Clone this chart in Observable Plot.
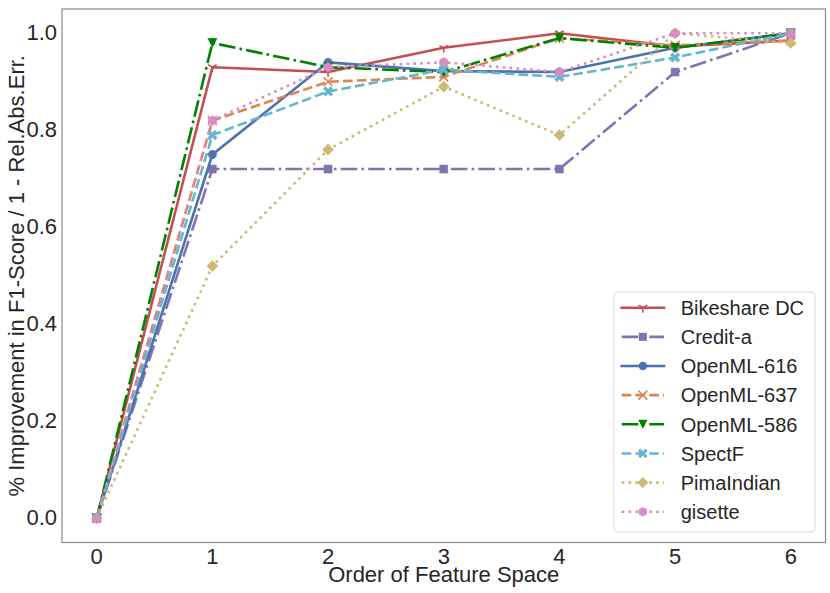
<!DOCTYPE html>
<html><head><meta charset="utf-8">
<script src="https://cdn.jsdelivr.net/npm/d3@7"></script>
<script src="https://cdn.jsdelivr.net/npm/@observablehq/plot@0.6"></script>
<style>
body{margin:0;background:#fff;}
#wrap{position:relative;width:830px;height:593px;font-family:"Liberation Sans",Arial,sans-serif;}
#legend{position:absolute;left:613px;top:291px;}
</style></head><body><div id="wrap"></div>
<script>
// ---- data ----
const orders = [0, 1, 2, 3, 4, 5, 6];
const seriesNames = ["Bikeshare DC", "Credit-a", "OpenML-616", "OpenML-637", "OpenML-586", "SpectF", "PimaIndian", "gisette"];
const bikeshareDC = [0, 0.93, 0.92, 0.97, 1.0, 0.973, 0.985];
const creditA     = [0, 0.72, 0.72, 0.72, 0.72, 0.92, 1.0];
const openml616   = [0, 0.75, 0.94, 0.922, 0.92, 0.97, 1.0];
const openml637   = [0, 0.82, 0.90, 0.91, 0.99, 0.975, 0.985];
const openml586   = [0, 0.98, 0.93, 0.92, 0.99, 0.97, 1.0];
const spectF      = [0, 0.79, 0.88, 0.925, 0.91, 0.95, 1.0];
const pimaIndian  = [0, 0.52, 0.76, 0.89, 0.79, 1.0, 0.98];
const gisette     = [0, 0.82, 0.93, 0.94, 0.92, 1.0, 1.0];
const seriesValues = [bikeshareDC, creditA, openml616, openml637, openml586, spectF, pimaIndian, gisette];
const yTicks = [0, 0.2, 0.4, 0.6, 0.8, 1.0];
const xLabel = "Order of Feature Space";
const yLabel = "% Improvement in F1-Score / 1 - Rel.Abs.Err.";

// ---- styles ----
const seriesColors = ["#C44E52", "#8172B2", "#4C72B0", "#DD8452", "#008000", "#64B5CD", "#CCB974", "#DA8BC3"];
const seriesLineStyles = ["solid", "dashdot", "solid", "dashed", "dashdot", "dashed", "dotted", "dotted"];
const seriesMarkers = ["tri_down", "square", "circle", "x", "triangle_down", "Xfill", "diamond", "hexagon"];
const LW = 2.6;
const dashes = {
  solid: null,
  dashed: [3.7 * LW, 1.6 * LW].join(","),
  dashdot: [6.4 * LW, 1.6 * LW, 1 * LW, 1.6 * LW].join(","),
  dotted: [1 * LW, 1.65 * LW].join(",")
};
const hr = s => Math.sqrt(s / Math.PI);
const symbols = {
  tri_down: {draw(c, s) { const h = hr(s); c.moveTo(0, 0); c.lineTo(0, h); c.moveTo(0, 0); c.lineTo(-h * 0.866, -h * 0.5); c.moveTo(0, 0); c.lineTo(h * 0.866, -h * 0.5); }},
  square: {draw(c, s) { const h = hr(s); c.moveTo(-h, -h); c.lineTo(h, -h); c.lineTo(h, h); c.lineTo(-h, h); c.closePath(); }},
  circle: {draw(c, s) { const h = hr(s); c.moveTo(h, 0); c.arc(0, 0, h, 0, 2 * Math.PI); }},
  x: {draw(c, s) { const h = hr(s); c.moveTo(-h, -h); c.lineTo(h, h); c.moveTo(-h, h); c.lineTo(h, -h); }},
  triangle_down: {draw(c, s) { const h = hr(s); c.moveTo(0, h); c.lineTo(-h, -h); c.lineTo(h, -h); c.closePath(); }},
  Xfill: {draw(c, s) {
    const h = hr(s) * 1.25, a = h * 0.3;
    const pts = [[a,h],[a,a],[h,a],[h,-a],[a,-a],[a,-h],[-a,-h],[-a,-a],[-h,-a],[-h,a],[-a,a],[-a,h]];
    const k = Math.SQRT1_2;
    pts.forEach(([x, y], i) => { const X = (x - y) * k, Y = (x + y) * k; i ? c.lineTo(X, Y) : c.moveTo(X, Y); });
    c.closePath();
  }},
  diamond: {draw(c, s) { const h = hr(s); c.moveTo(0, -h); c.lineTo(h, 0); c.lineTo(0, h); c.lineTo(-h, 0); c.closePath(); }},
  hexagon: {draw(c, s) { const h = hr(s); for (let i = 0; i < 6; i++) { const t = -Math.PI / 2 + i * Math.PI / 3; i ? c.lineTo(h * Math.cos(t), h * Math.sin(t)) : c.moveTo(h * Math.cos(t), h * Math.sin(t)); } c.closePath(); }}
};
const markerR = {tri_down: 5, square: 4, circle: 4.2, x: 4.5, triangle_down: 4.6, Xfill: 4.2, diamond: 5.6, hexagon: 4.8};
const strokeOnly = new Set(["tri_down", "x"]);

// ---- marks ----
const seriesMarks = [];
seriesNames.forEach((name, si) => {
  const rows = orders.map((o, i) => ({series: name, x: o, y: seriesValues[si][i]}));
  const style = seriesLineStyles[si];
  const color = seriesColors[si];
  seriesMarks.push(Plot.line(rows, {
    x: "x", y: "y", stroke: color, strokeWidth: LW,
    strokeDasharray: dashes[style] || undefined,
    strokeLinecap: style === "solid" ? "square" : "butt",
    strokeLinejoin: "round"
  }));
  const m = seriesMarkers[si];
  seriesMarks.push(Plot.dot(rows, strokeOnly.has(m)
    ? {x: "x", y: "y", r: markerR[m], symbol: symbols[m], fill: "none", stroke: color, strokeWidth: 1.5}
    : {x: "x", y: "y", r: markerR[m], symbol: symbols[m], fill: color, stroke: color, strokeWidth: 0.5}));
});

const chart = Plot.plot({
  width: 830, height: 593,
  marginLeft: 61.5, marginRight: 5, marginTop: 8.5, marginBottom: 51,
  style: {fontFamily: '"Liberation Sans", Arial, sans-serif', fontSize: "22px", color: "#262626", background: "#fff"},
  x: {domain: [-0.3, 6.3]},
  y: {domain: [-0.05, 1.05]},
  marks: [
    Plot.axisX({ticks: orders, tickSize: 0, tickPadding: 6, label: null, tickFormat: d => String(d), fontSize: 22}),
    Plot.axisY({ticks: yTicks, tickSize: 0, tickPadding: 5, label: null, tickFormat: d3.format(".1f"), fontSize: 22}),
    Plot.text([xLabel], {text: d => d, frameAnchor: "bottom", lineAnchor: "middle", textAnchor: "middle", dy: 32, fontSize: 22, fill: "#262626"}),
    Plot.text([yLabel], {text: d => d, frameAnchor: "left", lineAnchor: "middle", textAnchor: "middle", rotate: -90, dx: -45.5, fontSize: 22, fill: "#262626"}),
    ...seriesMarks,
    Plot.frame({stroke: "#888", strokeWidth: 1.2})
  ]
});
const wrap = document.getElementById("wrap");
wrap.appendChild(chart);

// ---- legend ----
const lg = d3.select(wrap).append("svg").attr("id", "legend").attr("width", 204).attr("height", 243);
lg.append("rect").attr("x", 1).attr("y", 1).attr("width", 201).attr("height", 240).attr("rx", 4)
  .attr("fill", "#fff").attr("fill-opacity", 0.85).attr("stroke", "#d9d9d9").attr("stroke-width", 1);
seriesNames.forEach((name, si) => {
  const cy = 1 + 15.7 + 29.15 * si;
  const color = seriesColors[si];
  const style = seriesLineStyles[si];
  const m = seriesMarkers[si];
  lg.append("line").attr("x1", 8.7).attr("x2", 51).attr("y1", cy).attr("y2", cy)
    .attr("stroke", color).attr("stroke-width", LW)
    .attr("stroke-dasharray", dashes[style])
    .attr("stroke-linecap", style === "solid" ? "square" : "butt");
  const p = lg.append("path").attr("transform", `translate(29.85,${cy})`)
    .attr("d", d3.symbol(symbols[m], Math.PI * markerR[m] * markerR[m])());
  if (strokeOnly.has(m)) p.attr("fill", "none").attr("stroke", color).attr("stroke-width", 1.5);
  else p.attr("fill", color);
  lg.append("text").attr("x", 67.7).attr("y", cy + 7.2).text(name)
    .attr("font-size", 20).attr("fill", "#262626")
    .attr("font-family", '"Liberation Sans", Arial, sans-serif');
});
</script></body></html>
